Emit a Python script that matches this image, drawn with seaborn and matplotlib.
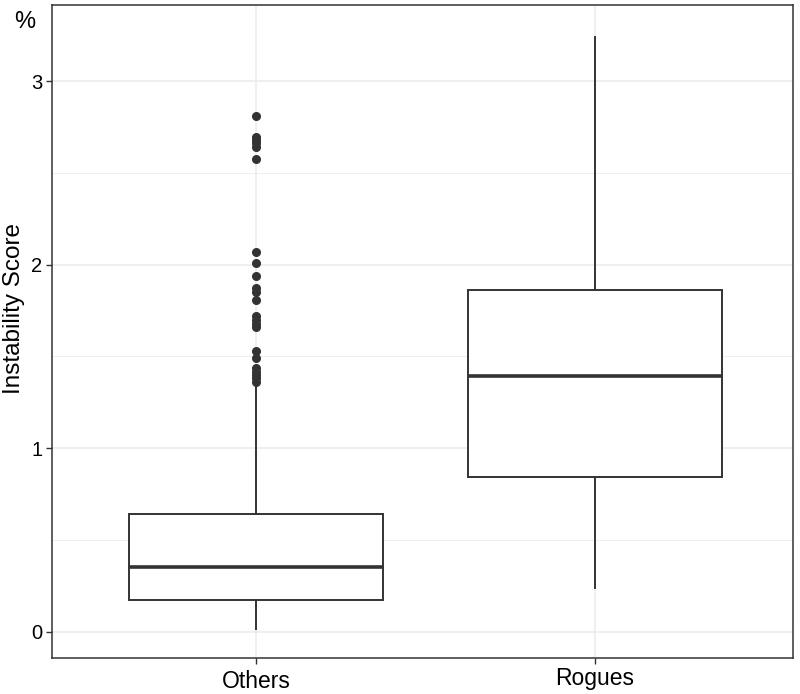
import numpy as np
import pandas as pd
import seaborn as sns
import matplotlib.pyplot as plt
import matplotlib.transforms as mtransforms
from matplotlib.ticker import MultipleLocator

# ---- data ----
categories = ["Others", "Rogues"]
# five-number summaries: lower whisker, Q1, median, Q3, upper whisker
others_stats = [0.011, 0.174, 0.356, 0.642, 1.340]
rogues_stats = [0.234, 0.844, 1.394, 1.862, 3.245]
others_outliers = [2.809, 2.695, 2.679, 2.662, 2.641, 2.575, 2.069, 2.009,
                   1.938, 1.873, 1.851, 1.808, 1.720, 1.699, 1.677, 1.661,
                   1.530, 1.492, 1.437, 1.416, 1.399, 1.383, 1.361]
rogues_outliers = []
y_ticks = [0, 1, 2, 3]


def build(stats, outliers, reps=40):
    lo, q1, med, q3, hi = stats
    return [lo] + [q1] * reps + [med] * reps + [q3] * reps + [hi] + list(outliers)


vals_o = build(others_stats, others_outliers)
vals_r = build(rogues_stats, rogues_outliers)
df = pd.DataFrame({
    "group": [categories[0]] * len(vals_o) + [categories[1]] * len(vals_r),
    "score": vals_o + vals_r,
})

sns.set_theme(style="white")
plt.rcParams["font.family"] = ["Liberation Sans", "DejaVu Sans"]

fig = plt.figure(figsize=(8.0, 6.94), dpi=100)
ax = fig.add_axes([52 / 800, 1 - 658 / 694, (793 - 52) / 800, (658 - 5) / 694])

dark = "#333333"
sns.boxplot(data=df, x="group", y="score", order=categories, ax=ax,
            width=0.75, color="white", linecolor=dark, linewidth=1.4,
            showcaps=False, whis=1.5, saturation=1,
            flierprops=dict(marker="o", markersize=5.5, markerfacecolor=dark,
                            markeredgecolor=dark),
            medianprops=dict(linewidth=2.6, color=dark))

ax.set_xlim(-0.602, 1.584)
ax.set_ylim(-0.142, 3.414)
ax.set_yticks(y_ticks)
ax.set_yticklabels([str(t) for t in y_ticks])
ax.yaxis.set_minor_locator(MultipleLocator(0.5))

ax.set_axisbelow(True)
ax.grid(True, which="major", color="#EBEBEB", linewidth=1.1)
ax.grid(True, which="minor", axis="y", color="#EBEBEB", linewidth=0.6)

for s in ax.spines.values():
    s.set_visible(True)
    s.set_color(dark)
    s.set_linewidth(1.1)

ax.tick_params(axis="both", which="major", length=4, width=1.0, color=dark,
               labelcolor="black", left=True, bottom=True)
ax.tick_params(axis="y", which="major", labelsize=14.5, pad=3)
ax.tick_params(axis="x", which="major", labelsize=16.5, pad=5)
ax.tick_params(axis="y", which="minor", length=0)

# the label with a descender sits a little higher in the reference
lbls = ax.get_xticklabels()
if len(lbls) > 1:
    lbls[1].set_transform(lbls[1].get_transform() +
                          mtransforms.ScaledTranslation(0, 3 / 100, fig.dpi_scale_trans))

ax.set_xlabel("")
ax.set_ylabel("")
fig.text(14 / 800, 1 - 309 / 694, "Instability Score", rotation=90,
         ha="center", va="center", fontsize=17.5, color="black")
fig.text(25 / 800, 1 - 22 / 694, "%", ha="center", va="center",
         fontsize=17, color="black")

fig.savefig("out.png", dpi=100)
